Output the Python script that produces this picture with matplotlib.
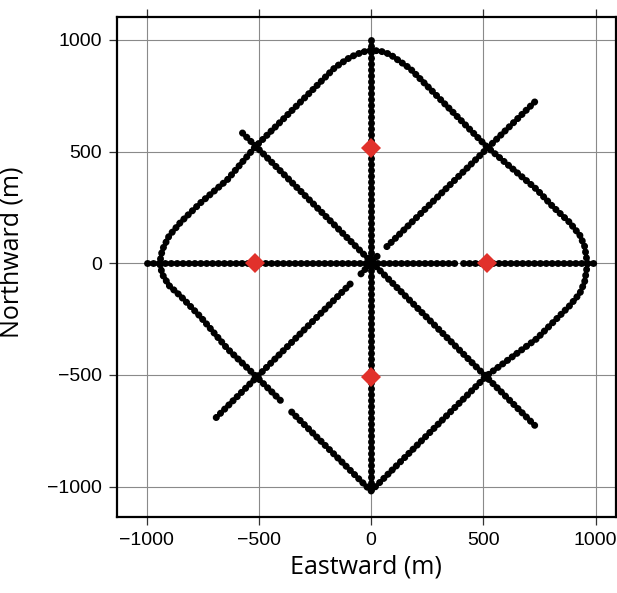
import matplotlib.pyplot as plt

# ship track waypoints (m); dots are drawn by the line style
loop_x = [-404, -516, -640, -760, -849, -900, -930, -942, -930, -900, -849, -760, -640,
          -516, -316, -160, -93, -40, 0, 40, 84, 174, 516, 738, 809, 884, 930, 951, 964,
          951, 930, 884, 738, 516, 0, -370]
loop_y = [-614, -503, -383, -240, -147, -100, -50, 0, 60, 122, 183, 270, 374,
          521, 720, 877, 922, 945, 953, 950, 935, 871, 521, 330, 254, 183, 125, 76, -4,
          -85, -135, -191, -338, -503, -1020, -650]

north_x = [0, 0]
north_y = [1000, -1030]
east_w_x = [-1000, 375]
east_e_x = [410, 1000]
east_y = [0, 0]
nwse_x = [-573, 729]
nwse_y = [583, -726]
nesw_a_x = [729, 67]
nesw_a_y = [722, 71]
nesw_b_x = [27, -58]
nesw_b_y = [31, -62]
nesw_c_x = [-93, -707]
nesw_c_y = [-93, -708]

# stations (red diamonds)
sta_x = [0, -515, 515, 0]
sta_y = [515, 0, 0, -510]

tracks = [(loop_x, loop_y), (north_x, north_y), (east_w_x, east_y), (east_e_x, east_y),
          (nwse_x, nwse_y), (nesw_a_x, nesw_a_y), (nesw_b_x, nesw_b_y), (nesw_c_x, nesw_c_y)]

plt.rcParams['lines.scale_dashes'] = False

fig = plt.figure(figsize=(6.17, 5.93), dpi=100)
ax = fig.add_axes([0.1896, 0.1282, 0.8084, 0.8431])

for tx, ty in tracks:
    ax.plot(tx, ty, color='black', linewidth=5.0, linestyle=(0, (0.25, 4.0)),
            dash_capstyle='round', solid_capstyle='round', zorder=3)

ax.plot(sta_x, sta_y, linestyle='none', marker='D', markersize=10,
        color='#e1312b', markeredgewidth=0, zorder=4)

ax.set_xlim(-1132, 1090)
ax.set_ylim(-1136, 1102)
ax.set_xticks([-1000, -500, 0, 500, 1000])
ax.set_yticks([-1000, -500, 0, 500, 1000])
ax.grid(True, color='#8a8a8a', linewidth=0.8, zorder=0)
ax.set_axisbelow(True)
ax.tick_params(direction='out', length=6, width=0.9, top=True, right=True,
               labelsize=14, pad=5, color='#333333')
for lab in ax.get_xticklabels() + ax.get_yticklabels():
    lab.set_fontfamily('Liberation Sans')
for sp in ax.spines.values():
    sp.set_linewidth(1.6)

ax.set_xlabel('Eastward (m)', fontsize=18, fontfamily='Open Sans', labelpad=4)
ax.set_ylabel('Northward (m)', fontsize=18, fontfamily='Open Sans', labelpad=8)
ax.yaxis.set_label_coords(-0.185, 0.53)

fig.savefig('out.png', dpi=100)
